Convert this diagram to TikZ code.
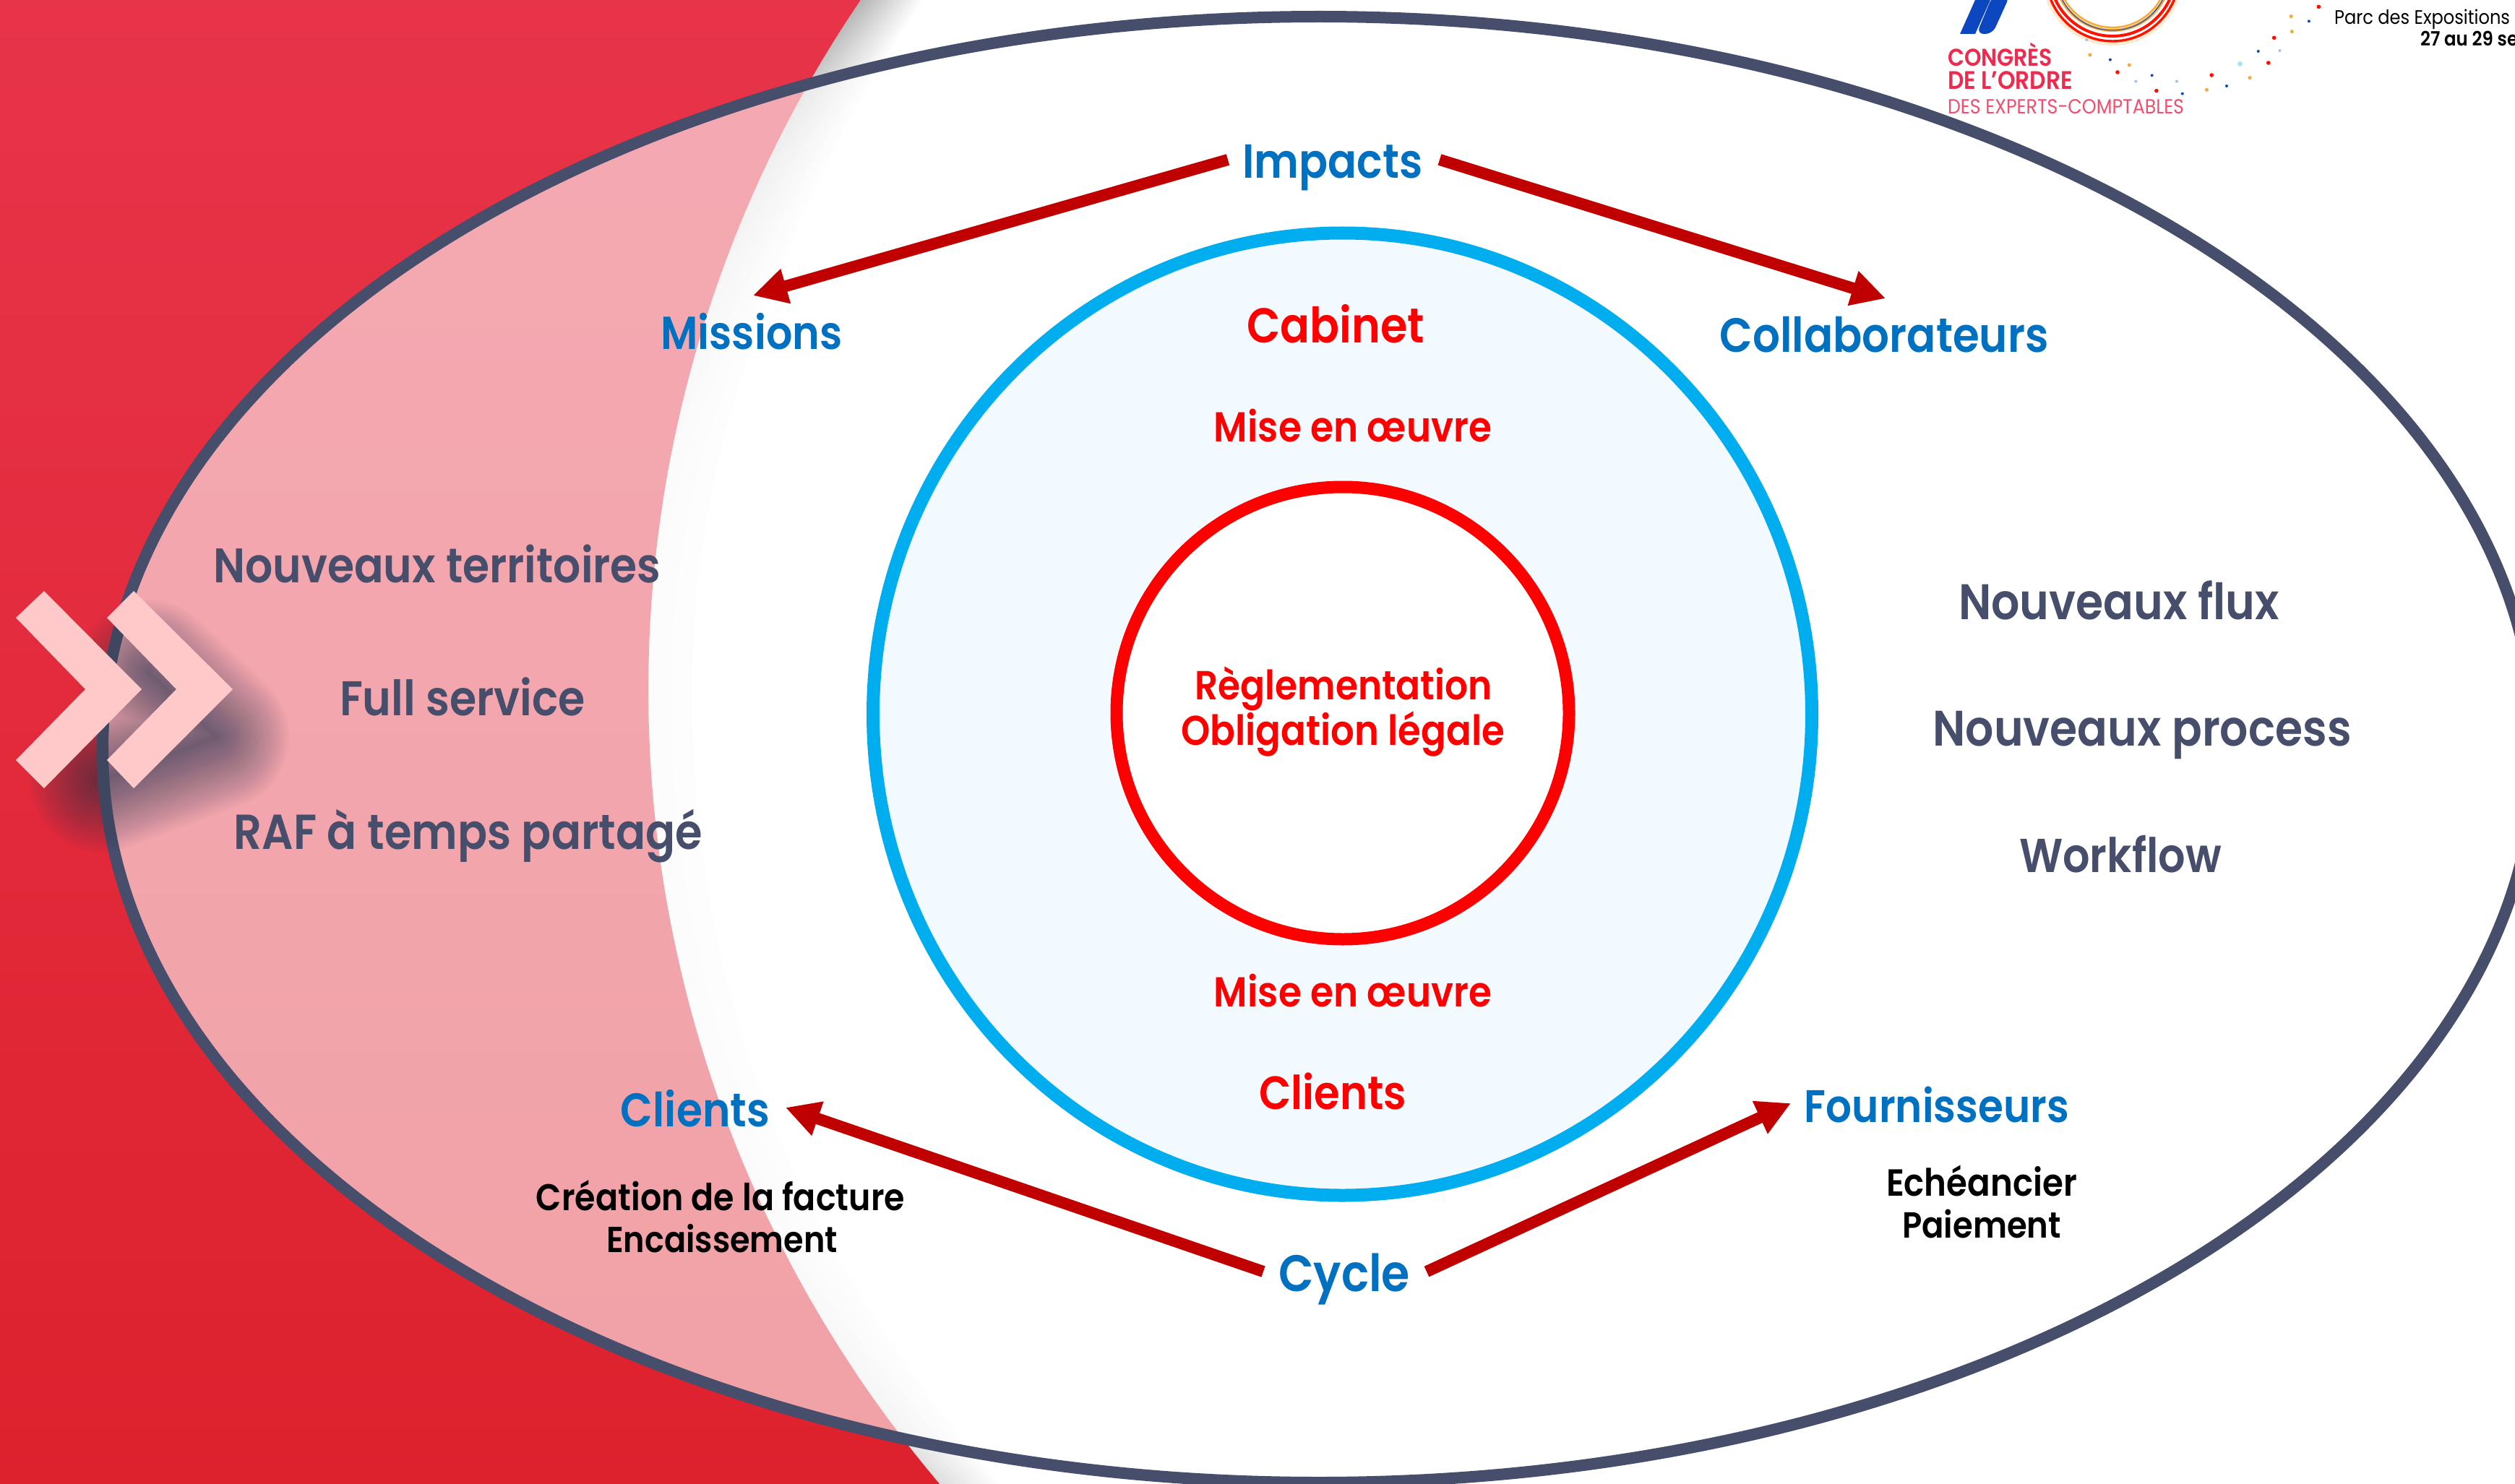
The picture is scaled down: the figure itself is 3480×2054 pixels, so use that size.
\documentclass[tikz,border=0pt]{standalone}
\usepackage{fontspec}
\usepackage{graphicx}
\setmainfont{Poppins}[BoldFont={Poppins SemiBold}]
\usetikzlibrary{arrows.meta,calc}
\definecolor{slate}{HTML}{464E6B}
\definecolor{bluet}{HTML}{0070C0}
\definecolor{arrowred}{HTML}{C00000}
\definecolor{cyanring}{HTML}{00AEEF}
\definecolor{paleblue}{HTML}{F2FAFF}
\definecolor{chev}{HTML}{FFC9CA}
\definecolor{redtop}{HTML}{E8344A}
\definecolor{redbot}{HTML}{DD212D}
\definecolor{logored}{HTML}{EE2A4E}
\definecolor{logopink}{HTML}{F0506E}
\definecolor{logoblue}{HTML}{0D47C0}
\definecolor{logoorange}{HTML}{F6A93B}
\definecolor{logolight}{HTML}{A8BDE8}
\newcommand{\fitw}[2]{\raisebox{-1pt}{\scalebox{1}[1.12]{\resizebox{\dimexpr #1pt/2\relax}{!}{#2}}}}
\tikzset{
  lbl/.style={inner sep=0pt,outer sep=0pt,anchor=base,font=\bfseries},
  lblslate/.style={lbl,text=slate},
  lblblue/.style={lbl,text=bluet},
  lblred/.style={lbl,text=red},
  lblblack/.style={lbl,text=black},
  bigarrow/.style={draw=arrowred,line width=8pt,-{Triangle[length=23.5pt,width=23.5pt]},arrowred},
  chevron/.style={fill=chev},
  declare function={
    uu(\a)=(955+1700*sin(\a)-1150)/1150;
    shI(\a)=0.03+0.23*pow(abs(uu(\a)),4);
  }
}
\begin{document}
\begin{tikzpicture}[x=0.5pt,y=-0.5pt]
\useasboundingbox (0,0) rectangle (3480,2054);
\clip (0,0) rectangle (3480,2054);
\fill[white] (0,0) rectangle (3480,2054);
% soft shadow of the red shape
\foreach \L in {1,...,26}{
  \pgfmathsetmacro{\tt}{\L*0.01}
  \fill[black,opacity=.01] (-10,-10) -- plot[domain=-36:41,samples=40] ({2597-1700*cos(\x)+90*(1-\tt/shI(\x))},{955+1700*sin(\x)}) -- (-10,2064) -- cycle;
}
% red shape
\shade[top color=redtop,bottom color=redbot] (-10,-10) -- plot[domain=-36:41,samples=90] ({2597-1700*cos(\x)},{955+1700*sin(\x)}) -- (-10,2064) -- cycle;
% big ellipse
\fill[white,opacity=.58] (1825,1037.5) ellipse [x radius=1683,y radius=1014.5];
\draw[slate,line width=8pt] (1825,1037.5) ellipse [x radius=1683,y radius=1014.5];
% blurred shadow behind the chevrons
\foreach \k in {1,...,40}{
  \pgfmathsetmacro{\wd}{100*pow(\k/40,1.3)}
  \draw[slate!90!black,opacity=.029,line width=\wd pt,line cap=round,line join=round] (205,930) -- (300,1020) -- (140,1080);
}
% chevrons
\fill[chevron] (61,818) -- (22,855) -- (118,954) -- (22,1052) -- (61,1091) -- (196,954) -- cycle;
\fill[chevron] (185,818) -- (148,855) -- (244,954) -- (148,1052) -- (185,1091) -- (322,954) -- cycle;
% circles
\draw[cyanring,fill=paleblue,line width=9pt] (1857.5,988.5) ellipse [x radius=649.5,y radius=666];
\draw[red,fill=white,line width=8.5pt] (1858,987) circle (313);
% logo
\fill[logoblue] (2712,47) -- (2733,47) -- (2754,0) -- (2733,0) -- cycle;
\fill[logoblue,rounded corners=5pt] (2735,47) -- (2757,47) -- (2781,-6) -- (2757,-6) -- cycle;
\draw[logoorange!25,line width=3pt] (2923,-35) circle (95);
\draw[red!85!orange,line width=1.7pt] (2923,-35) circle (92);
\draw[red!85!orange,line width=2pt] (2923,-37) circle (87);
\draw[logoorange,line width=2pt] (2923,-38) circle (80);
\draw[logoblue,line width=.5pt] (2923,-36) circle (78);
\draw[logoorange,line width=1.2pt] (2923,-38) circle (76);
\foreach \X/\Y in {1084/28,974/157,960/261,820/312,684/377,588/300}
  \fill[red!90!orange] ({2600+\X/1.782},{\Y/3}) circle (2.8);
\foreach \X/\Y in {1016/68,1018/131,914/323,808/373,617/270,520/228}
  \fill[logoorange] ({2600+\X/1.782},{\Y/3}) circle (2.5);
\foreach \X/\Y in {1060/88,935/213,857/357,748/389,673/313,570/248}
  \fill[logoblue] ({2600+\X/1.782},{\Y/3}) circle (2);
\foreach \X/\Y in {988/210,734/338,633/338,512/165}
  \fill[logolight] ({2600+\X/1.782},{\Y/3}) circle (2);
\fill[cyan!35] ({2600+890/1.782},{265/3}) circle (3.5);
\node[lbl,text=logored,anchor=base west] (congres) at (2695,90) {\fitw{145}{CONGRÈS}};
\node[lbl,text=logored,anchor=base west] (ordre) at (2695,122) {\fitw{173}{DE L'ORDRE}};
\node[lbl,text=logopink,anchor=base west,font=\mdseries] (experts) at (2695,156) {\fitw{327}{DES EXPERTS-COMPTABLES}};
\node[lbl,text=black,anchor=base west,font=\mdseries] (parc) at (3230,32) {\fitw{243}{Parc des Expositions}};
\node[lbl,text=black,anchor=base west] (dates) at (3349,62) {\fitw{135}{27 au 29 se}};
% texts
\node[lblblue] (impacts) at (1844,245) {\fitw{249}{Impacts}};
\node[lblblue] (missions) at (1040,482) {\fitw{251}{Missions}};
\node[lblblue] (collab) at (2607,486) {\fitw{455}{Collaborateurs}};
\node[lblred] (cabinet) at (1848,473) {\fitw{246}{Cabinet}};
\node[lblred] (mise1) at (1872,610) {\fitw{384}{Mise en œuvre}};
\node[lblred] (regl) at (1859,966) {\fitw{411}{Règlementation}};
\node[lblred] (oblig) at (1858,1029) {\fitw{448}{Obligation légale}};
\node[lblred] (mise2) at (1872,1391) {\fitw{384}{Mise en œuvre}};
\node[lblred] (clientsr) at (1844,1533) {\fitw{204}{Clients}};
\node[lblslate] (terr) at (605,804) {\fitw{619}{Nouveaux territoires}};
\node[lblslate] (full) at (640,988) {\fitw{340}{Full service}};
\node[lblslate] (raf) at (648,1173) {\fitw{648}{RAF à temps partagé}};
\node[lblslate] (flux) at (2932,855) {\fitw{444}{Nouveaux flux}};
\node[lblslate] (process) at (2964,1030) {\fitw{579}{Nouveaux process}};
\node[lblslate] (workflow) at (2934,1205) {\fitw{280}{Workflow}};
\node[lblblue] (clientsb) at (962,1557) {\fitw{206}{Clients}};
\node[lblblack] (creation) at (997,1673) {\fitw{510}{Création de la facture}};
\node[lblblack] (encaiss) at (999,1731) {\fitw{320}{Encaissement}};
\node[lblblue] (fourn) at (2680,1551) {\fitw{366}{Fournisseurs}};
\node[lblblack] (echeance) at (2742,1653) {\fitw{264}{Echéancier}};
\node[lblblack] (paiement) at (2742,1711) {\fitw{220}{Paiement}};
\node[lblblue] (cycle) at (1860,1785) {\fitw{182}{Cycle}};
% connector ends
\coordinate (imL) at ($(impacts.base)+(-145,-24)$);
\coordinate (imR) at ($(impacts.base)+(148,-24)$);
\coordinate (miT) at ($(missions.base)+(2,-73)$);
\coordinate (coT) at ($(collab.base)+(2,-73)$);
\coordinate (cyL) at ($(cycle.base)+(-112,-25)$);
\coordinate (cyR) at ($(cycle.base)+(114,-25)$);
\coordinate (clT) at ($(clientsb.base)+(125,-24)$);
\coordinate (foT) at ($(fourn.base)+(-202,-24)$);
\draw[bigarrow] (imL) -- (miT);
\draw[bigarrow] (imR) -- (coT);
\draw[bigarrow] (cyL) -- (clT);
\draw[bigarrow] (cyR) -- (foT);
\end{tikzpicture}
\end{document}
